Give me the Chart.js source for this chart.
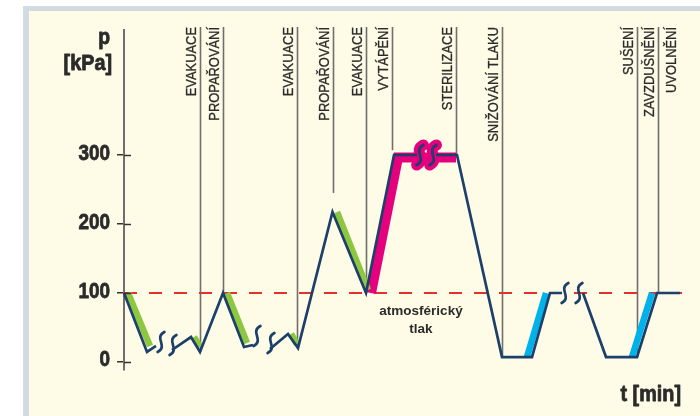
<!DOCTYPE html>
<html><head><meta charset="utf-8">
<script src="https://cdn.jsdelivr.net/npm/chart.js@4"></script>
<style>html,body{margin:0;padding:0;background:#fff;overflow:hidden}canvas{display:block}</style>
</head><body>
<canvas id="c" width="700" height="416"></canvas>
<script>
// ---- data (t in arbitrary minutes, p in kPa) ----
const yTicks = [0, 100, 200, 300];
const curveT = [0, 4.6, 6.4, null, 9.6, 13.4, 15.2, 19.8, 24.0, 25.8, null, 29.2, 32.8, 34.8, 41.7, 48.4, 54.0, 58.6, null, 62.4, 66.6, 75.6, 81.6, 85.2, 87.6, null, 91.8, 96.4, 102.6, 106.6, 111.2];
const curveP = [100, 14.5, 23.2, null, 17.4, 36.2, 14.5, 100, 21.7, 24.6, null, 18.8, 40.6, 20.3, 217.4, 100, 300, 300, null, 300, 300, 7.2, 7.2, 100, 100, null, 100, 7.2, 7.2, 100, 100];
const greenT = [0.8, 5.2, null, 14.0, 15.2, null, 20.6, 24.6, null, 33.4, 34.6, null, 42.6, 48.8];
const greenP = [100, 23.2, null, 36.2, 21.7, null, 100, 27.5, null, 40.6, 26.1, null, 217.4, 104.3];
const magentaT = [49.4, 54.8, 66.4];
const magentaP = [100, 296.4, 296.4];
const cyanT = [80.6, 84.4, null, 101.6, 105.6];
const cyanP = [7.2, 100, null, 7.2, 100];
const atmT = [0, 111.6];
const atmP = [100, 100];
const breakT = [7.4, 9.8, 26.6, 29.4, 59.2, 61.8, 88.2, 91.0];
const breakP = [29, 24.6, 37.7, 27.5, 300, 300, 100, 100];
const breakHot = [false, false, false, false, true, true, false, false];
const phaseNames = ['EVAKUACE', 'PROPAŘOVÁNÍ', 'EVAKUACE', 'PROPAŘOVÁNÍ', 'EVAKUACE', 'VYTÁPĚNÍ', 'STERILIZACE', 'SNIŽOVÁNÍ TLAKU', 'SUŠENÍ', 'ZAVZDUŠNĚNÍ', 'UVOLNĚNÍ'];
const phaseT = [15.2, 19.8, 34.6, 41.7, 48.4, 53.6, 66.4, 75.6, 102.6, 106.8, 111.2];
const phaseEnd = [14.5, 100, 21.7, 245, 100, 307, 300, 7.2, 7.2, 100, null];

const SANS = '"Liberation Sans",Arial,sans-serif';
const NAVY = '#1c3f6c', GREEN = '#8dc63f', MAGENTA = '#e5007e', CYAN = '#00b2ea', RED = '#e4322b';
const TXT = '#2b2b2b';

function pts(T, P) {
  let last = 0;
  return T.map((t, i) => {
    if (t === null) return { x: last, y: null };
    last = t; return { x: t, y: P[i] };
  });
}

function squiggle(ctx, x, y) {
  const h = 10, w = 3.4;
  ctx.beginPath();
  ctx.moveTo(x - w, y + h);
  ctx.bezierCurveTo(x + w * 2.2, y + h * 0.45, x - w * 2.2, y - h * 0.45, x + w, y - h);
  ctx.stroke();
}

function narrow(ctx, text, x, y, sx, align, rot, heavy) {
  ctx.save();
  ctx.translate(x, y);
  if (rot) ctx.rotate(rot);
  ctx.scale(sx, 1);
  ctx.textAlign = align;
  ctx.fillText(text, 0, 0);
  if (heavy) { ctx.lineWidth = heavy; ctx.strokeStyle = ctx.fillStyle; ctx.lineJoin = 'round'; ctx.strokeText(text, 0, 0); }
  ctx.restore();
}

const deco = {
  id: 'deco',
  beforeDraw(chart) {
    const ctx = chart.ctx;
    ctx.save();
    ctx.fillStyle = '#ffffff'; ctx.fillRect(0, 0, 700, 416);
    ctx.fillStyle = '#d3dbe2'; ctx.fillRect(23, 6, 677, 410);
    ctx.fillStyle = '#fefce6'; ctx.fillRect(29, 11, 671, 405);
    ctx.restore();
  },
  beforeDatasetsDraw(chart) {
    const ctx = chart.ctx, xs = chart.scales.x, ys = chart.scales.y;
    const top = chart.chartArea.top - 3;
    ctx.save();
    ctx.strokeStyle = '#6f6f6f'; ctx.lineWidth = 1.6;
    phaseT.forEach((t, i) => {
      if (phaseEnd[i] === null) return;
      const x = Math.round(xs.getPixelForValue(t)) + 0.5;
      ctx.beginPath(); ctx.moveTo(x, top); ctx.lineTo(x, ys.getPixelForValue(phaseEnd[i])); ctx.stroke();
    });
    ctx.strokeStyle = MAGENTA; ctx.lineWidth = 11; ctx.lineCap = 'round';
    breakT.forEach((t, i) => {
      if (!breakHot[i]) return;
      squiggle(ctx, xs.getPixelForValue(t), ys.getPixelForValue(breakP[i]));
    });
    ctx.restore();
  },
  afterDatasetsDraw(chart) {
    const ctx = chart.ctx, xs = chart.scales.x, ys = chart.scales.y, ca = chart.chartArea;
    ctx.save();
    ctx.strokeStyle = NAVY; ctx.lineWidth = 2.7; ctx.lineCap = 'round';
    breakT.forEach((t, i) => squiggle(ctx, xs.getPixelForValue(t), ys.getPixelForValue(breakP[i])));
    // inner half of y ticks + tick labels
    ctx.strokeStyle = '#333'; ctx.lineWidth = 1.5; ctx.lineCap = 'butt';
    ctx.fillStyle = TXT;
    ctx.font = 'bold 22px ' + SANS;
    ctx.textBaseline = 'alphabetic';
    yTicks.forEach(v => {
      const yp = ys.getPixelForValue(v);
      const y = Math.round(yp) + 0.5;
      ctx.beginPath(); ctx.moveTo(ca.left, y); ctx.lineTo(ca.left + 7, y); ctx.stroke();
      narrow(ctx, String(v), ca.left - 14, yp + 4.5, 0.86, 'right', 0, 0.8);
    });
    // phase labels
    ctx.font = '14.5px ' + SANS;
    phaseT.forEach((t, i) => {
      const x = Math.round(xs.getPixelForValue(t)) - 4;
      narrow(ctx, phaseNames[i], x, ca.top - 3, 0.89, 'right', -Math.PI / 2, 0.3);
    });
    // axis titles
    ctx.font = 'bold 22px ' + SANS;
    narrow(ctx, 'p', 110, 44, 0.88, 'right', 0, 0.8);
    narrow(ctx, '[kPa]', 112, 70, 0.9, 'right', 0, 0.8);
    narrow(ctx, 't [min]', 681, 401, 0.9, 'right', 0, 0.8);
    // atmospheric pressure note
    ctx.font = 'bold 13.5px ' + SANS;
    ctx.textAlign = 'center';
    const ax = xs.getPixelForValue(59.4), ay = ys.getPixelForValue(100);
    ctx.fillText('atmosférický', ax, ay + 22);
    ctx.fillText('tlak', ax, ay + 40);
    ctx.restore();
  }
};

const lineDefaults = { pointRadius: 0, tension: 0, fill: false, clip: false, spanGaps: false, borderCapStyle: 'butt' };

new Chart(document.getElementById('c'), {
  type: 'line',
  data: {
    datasets: [
      Object.assign({ label: 'tlak', data: pts(curveT, curveP), borderColor: NAVY, borderWidth: 2.7, borderJoinStyle: 'miter' }, lineDefaults),
      Object.assign({ label: 'evakuace', data: pts(greenT, greenP), borderColor: GREEN, borderWidth: 6.5 }, lineDefaults),
      Object.assign({ label: 'sterilizace', data: pts(magentaT, magentaP), borderColor: MAGENTA, borderWidth: 10, borderJoinStyle: 'miter' }, lineDefaults),
      Object.assign({ label: 'zavzdušnění', data: pts(cyanT, cyanP), borderColor: CYAN, borderWidth: 6.5 }, lineDefaults),
      Object.assign({ label: 'atmosférický tlak', data: pts(atmT, atmP), borderColor: RED, borderWidth: 2, borderDash: [13, 12] }, lineDefaults)
    ]
  },
  options: {
    responsive: false,
    animation: false,
    devicePixelRatio: 1,
    layout: { padding: { left: 0, right: 10, top: 30, bottom: 46 } },
    plugins: { legend: { display: false }, tooltip: { enabled: false }, title: { display: false } },
    scales: {
      x: { type: 'linear', min: 0, max: 113.2, display: false },
      y: {
        type: 'linear', min: -11.6, max: 481.2, position: 'left',
        afterFit: s => { s.width = 124; },
        afterBuildTicks: s => { s.ticks = yTicks.map(v => ({ value: v })); },
        grid: { drawOnChartArea: false, drawTicks: true, tickLength: 7, color: '#333', lineWidth: 1.5 },
        border: { display: true, color: '#6f6f6f', width: 2 },
        ticks: { display: false }
      }
    }
  },
  plugins: [deco]
});
</script>
</body></html>
